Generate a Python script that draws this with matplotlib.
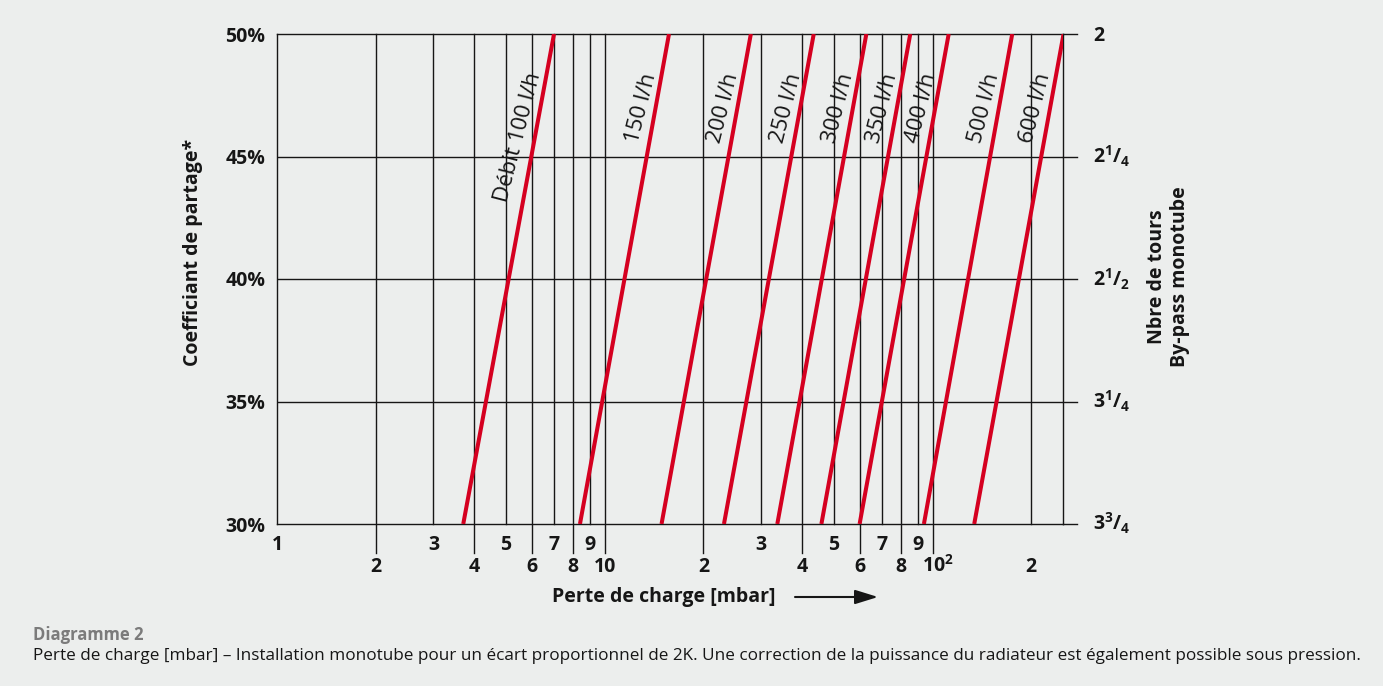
import numpy as np
import matplotlib.pyplot as plt
from matplotlib.transforms import blended_transform_factory

plt.rcParams['font.family'] = ['Open Sans', 'DejaVu Sans']
plt.rcParams['mathtext.fontset'] = 'custom'
plt.rcParams['mathtext.rm'] = 'Open Sans:bold'
plt.rcParams['mathtext.it'] = 'Open Sans:bold'
plt.rcParams['mathtext.bf'] = 'Open Sans:bold'

# flow lines: pressure drop [mbar] read at 30 % and 50 %
flows = [100, 150, 200, 250, 300, 350, 400, 500, 600]
flow_labels = ['Débit 100 l/h', '150 l/h', '200 l/h', '250 l/h', '300 l/h',
               '350 l/h', '400 l/h', '500 l/h', '600 l/h']
dp_30 = [3.7, 8.4, 14.9, 23.1, 33.6, 45.8, 59.9, 94.1, 134]
dp_50 = [7.0, 15.7, 27.9, 43.4, 62.8, 85.5, 112, 175, 251]

coef = [30, 35, 40, 45, 50]
coef_labels = ['30%', '35%', '40%', '45%', '50%']
turns_labels = [r'$3^{3}/_{4}$', r'$3^{1}/_{4}$', r'$2^{1}/_{2}$', r'$2^{1}/_{4}$', '2']

grid_x = [2, 3, 4, 5, 6, 7, 8, 9, 10, 20, 30, 40, 50, 60, 70, 80, 90, 100, 200]
long_x = [2, 4, 6, 8, 10, 20, 40, 60, 80, 100]
upper_ticks = [1, 3, 5, 7, 9, 30, 50, 70, 90]
upper_labels = ['1', '3', '5', '7', '9', '3', '5', '7', '9']
lower_ticks = [2, 4, 6, 8, 10, 20, 40, 60, 80, 100, 200]
lower_labels = ['2', '4', '6', '8', '10', '2', '4', '6', '8', r'$10^{2}$', '2']

BG = '#eceeed'
RED = '#d50020'
INK = '#161616'
TW = 'bold'
FS = 14

W, H = 1383, 686
fig = plt.figure(figsize=(W / 100, H / 100), dpi=100, facecolor=BG)
ax = fig.add_axes([277 / W, 1 - 524 / H, (1063 - 277) / W, (524 - 34) / H])
ax.set_facecolor(BG)
ax.set_xscale('log')
ax.set_xlim(1, 250)
ax.set_ylim(30, 50)
ax.set_xticks([])
ax.set_xticks([], minor=True)
for s in ax.spines.values():
    s.set_color(INK)
    s.set_linewidth(1)

xt = blended_transform_factory(ax.transData, ax.transAxes)
yt = blended_transform_factory(ax.transAxes, ax.transData)

# grid
for x in grid_x:
    y0 = -0.059 if x in long_x else 0
    ax.plot([x, x], [y0, 1], transform=xt, color=INK, lw=1, clip_on=False, zorder=1)
for y in coef:
    if 30 < y < 50:
        ax.axhline(y, color=INK, lw=1, zorder=1)
    ax.plot([1, 1.018], [y, y], transform=yt, color=INK, lw=1, clip_on=False)

# left ticks
ax.set_yticks(coef)
ax.set_yticklabels(coef_labels, fontsize=FS, fontweight=TW, color=INK)
ax.tick_params(axis='y', length=0, pad=8.5)

# right labels
for y, lab in zip(coef, turns_labels):
    ax.annotate(lab, xy=(1, y), xycoords=yt, xytext=(30, -7), textcoords='offset pixels',
                ha='left', va='baseline', fontsize=FS, fontweight=TW, color=INK,
                annotation_clip=False)

# bottom labels
for x, lab in zip(upper_ticks, upper_labels):
    ax.annotate(lab, xy=(x, 0), xycoords=xt, xytext=(0, -26), textcoords='offset pixels',
                ha='center', va='baseline', fontsize=FS, fontweight=TW, color=INK,
                annotation_clip=False)
for x, lab in zip(lower_ticks, lower_labels):
    dx = 5 if x == 100 else 0
    ax.annotate(lab, xy=(x, 0), xycoords=xt, xytext=(dx, -48), textcoords='offset pixels',
                ha='center', va='baseline', fontsize=FS, fontweight=TW, color=INK,
                annotation_clip=False)

# flow lines and their labels
y_lab = 48.3
for lo, hi, lab in zip(dp_30, dp_50, flow_labels):
    ax.plot([lo, hi], [30, 50], color=RED, lw=2.9, solid_capstyle='butt', zorder=3)
    p0 = ax.transData.transform((lo, 30))
    p1 = ax.transData.transform((hi, 50))
    ang = np.degrees(np.arctan2(p1[1] - p0[1], p1[0] - p0[0]))
    t = (y_lab - 30) / 20
    xa = 10 ** (np.log10(lo) + t * (np.log10(hi) - np.log10(lo)))
    th = np.radians(ang)
    off = 6
    ax.annotate(lab, xy=(xa, y_lab), xytext=(-off * np.sin(th), off * np.cos(th)),
                textcoords='offset pixels', rotation=ang - 4, rotation_mode='anchor',
                ha='right', va='baseline', fontsize=16, color=INK, zorder=4)

# axis titles
fig.text(193 / W, 1 - 252 / H, 'Coefficiant de partage*', rotation=90, ha='center',
         va='center', fontsize=FS, fontweight=TW, color=INK)
fig.text(1168 / W, 1 - 277 / H, 'Nbre de tours\nBy-pass monotube', rotation=90,
         ha='center', va='center', multialignment='center', linespacing=1.2,
         fontsize=FS, fontweight=TW, color=INK)
fig.text(664 / W, 1 - 597 / H, 'Perte de charge [mbar]', ha='center', va='center',
         fontsize=FS, fontweight=TW, color=INK)
ax.annotate('', xy=(878, H - 597), xytext=(795, H - 597), xycoords='figure pixels',
            textcoords='figure pixels',
            arrowprops=dict(arrowstyle='-|>,head_length=1.0,head_width=0.31',
                            mutation_scale=14, color=INK, lw=1.5, shrinkA=0, shrinkB=0))

# caption
fig.text(33 / W, 1 - 640 / H, 'Diagramme 2', ha='left', va='baseline',
         fontsize=12, fontweight=TW, color='#7b7b7b')
fig.text(33 / W, 1 - 660 / H,
         'Perte de charge [mbar] – Installation monotube pour un écart proportionnel de 2K. '
         'Une correction de la puissance du radiateur est également possible sous pression.',
         ha='left', va='baseline', fontsize=12.3, color=INK)

fig.savefig('out.png', dpi=100, facecolor=BG)
